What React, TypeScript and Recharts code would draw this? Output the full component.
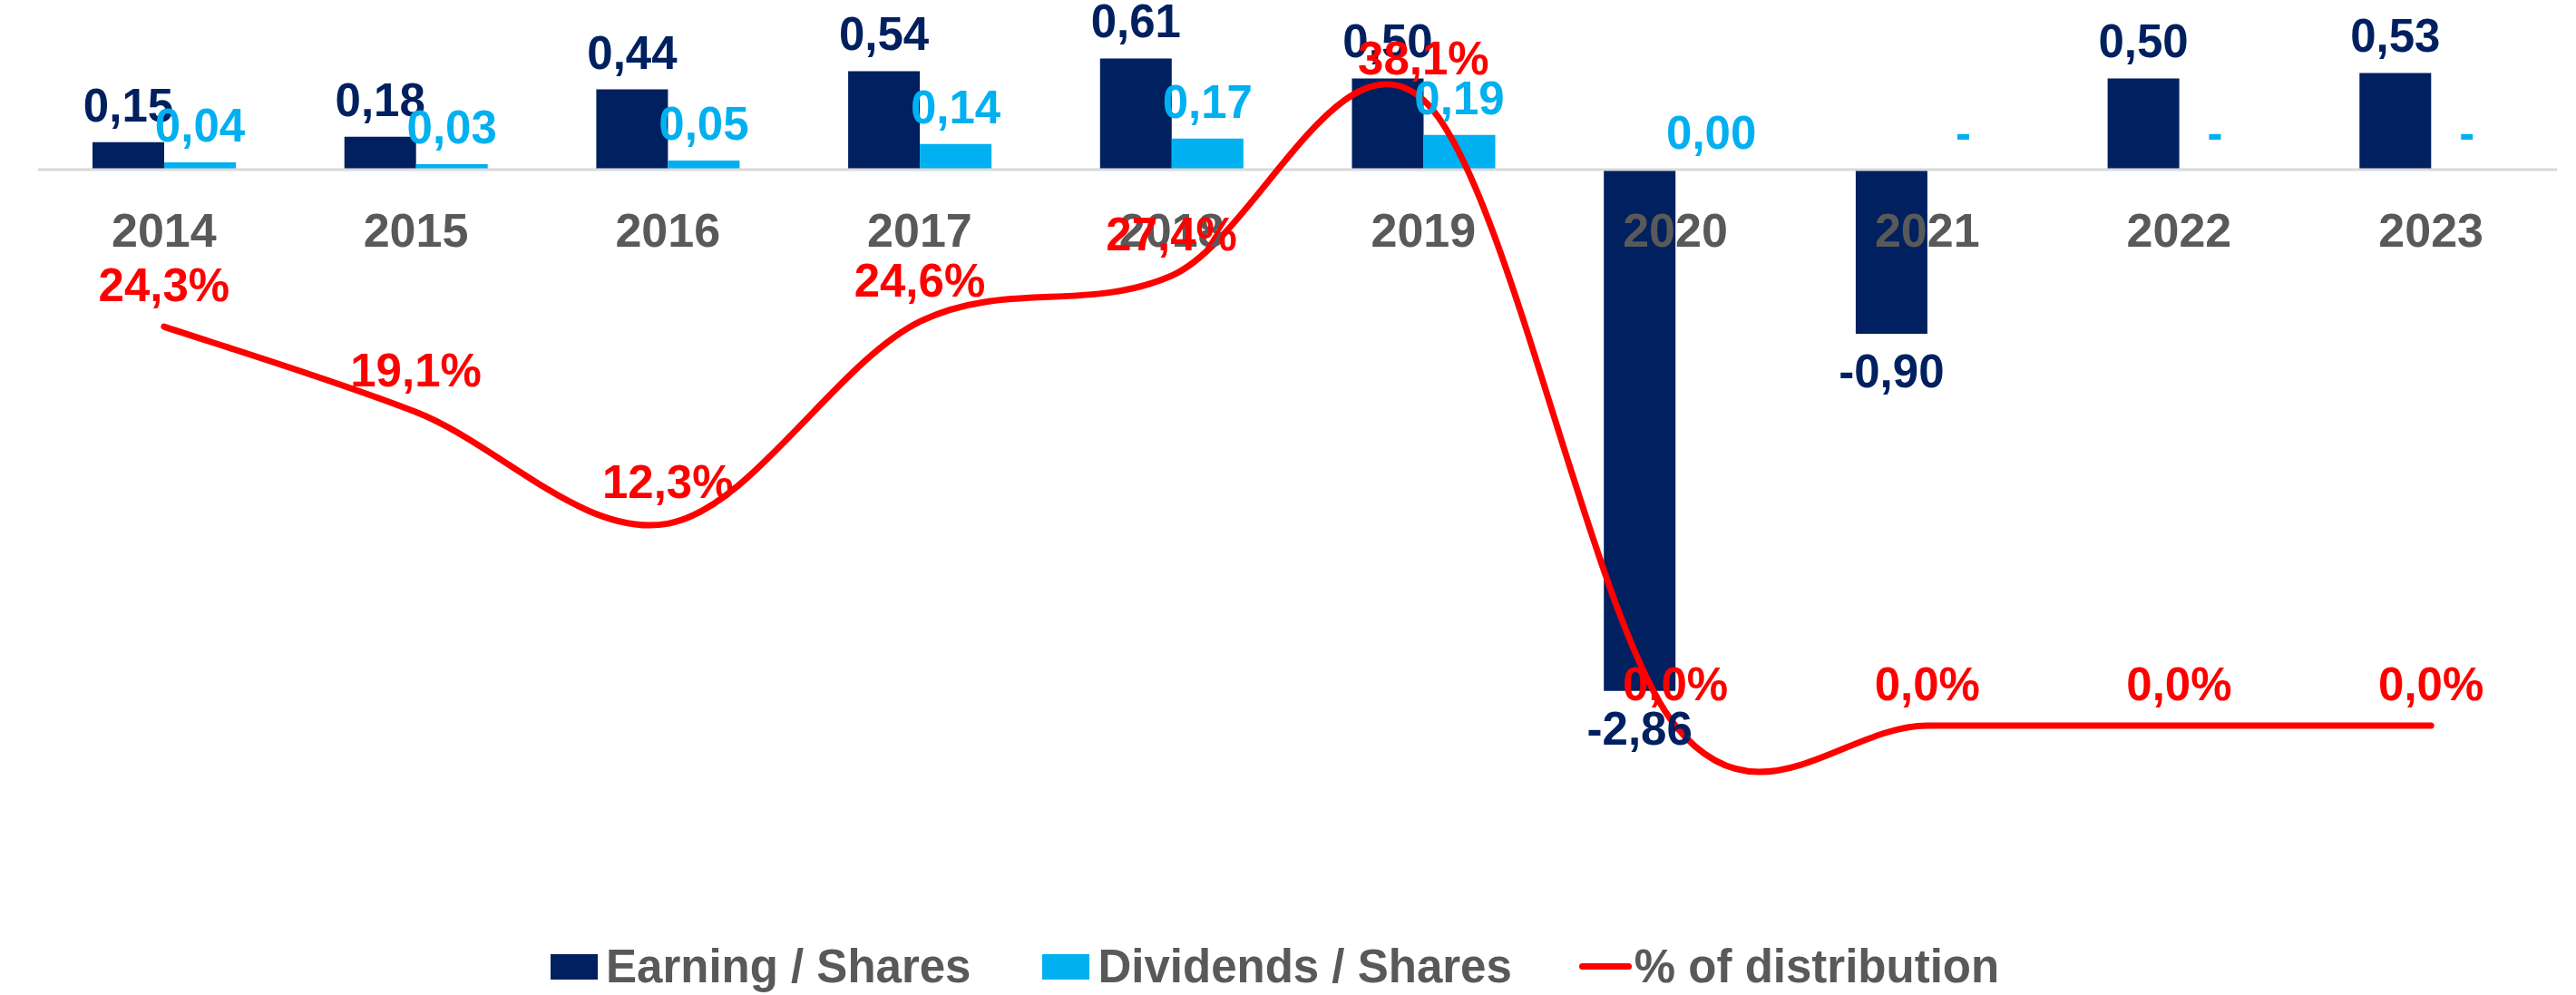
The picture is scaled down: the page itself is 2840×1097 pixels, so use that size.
import React from "react";
import {
  ComposedChart,
  Bar,
  Line,
  XAxis,
  YAxis,
  LabelList,
  ReferenceLine,
  Legend,
} from "recharts";

const years = ["2014", "2015", "2016", "2017", "2018", "2019", "2020", "2021", "2022", "2023"];
const earningPerShare = [0.15, 0.18, 0.44, 0.54, 0.61, 0.5, -2.86, -0.9, 0.5, 0.53];
const dividendPerShare: (number | null)[] = [0.04, 0.03, 0.05, 0.14, 0.17, 0.19, 0.0, null, null, null];
const distributionPct = [24.3, 19.1, 12.3, 24.6, 27.4, 38.1, 0, 0, 0, 0];

const NAVY = "#002060";
const CYAN = "#00B0F0";
const RED = "#FF0000";
const GREY = "#595959";
const FONT = "'Liberation Sans', Arial, sans-serif";

const W = 2840;
const H = 1097;
const PLOT_TOP = 27;
const PLOT_H = 880;
const EPS_DOMAIN = [-3.582, 0.796];
const PCT_DOMAIN = [-5.91, 42.7];
const ZERO_Y = PLOT_TOP + (EPS_DOMAIN[1] / (EPS_DOMAIN[1] - EPS_DOMAIN[0])) * PLOT_H;

const fmt = (v: number, d = 2) => v.toFixed(d).replace(".", ",");

const data = years.map((year, i) => {
  const dps = dividendPerShare[i];
  return {
    year,
    eps: earningPerShare[i],
    // zero-height bars lose their label in recharts, so keep a hair of height
    dps: dps || 1e-9,
    dpsLabel: dps == null ? "-" : fmt(dps),
    pct: distributionPct[i],
  };
});

// excel-like smoothed line (catmull-rom, 1/6 tangents)
function excelSmooth(context: any) {
  let pts: number[][] = [];
  return {
    areaStart() {},
    areaEnd() {},
    lineStart() {
      pts = [];
    },
    point(x: number, y: number) {
      pts.push([+x, +y]);
    },
    lineEnd() {
      if (!pts.length) return;
      context.moveTo(pts[0][0], pts[0][1]);
      for (let i = 0; i < pts.length - 1; i++) {
        const p0 = pts[i - 1] || pts[i];
        const p1 = pts[i];
        const p2 = pts[i + 1];
        const p3 = pts[i + 2] || p2;
        context.bezierCurveTo(
          p1[0] + (p2[0] - p0[0]) / 6,
          p1[1] + (p2[1] - p0[1]) / 6,
          p2[0] - (p3[0] - p1[0]) / 6,
          p2[1] - (p3[1] - p1[1]) / 6,
          p2[0],
          p2[1]
        );
      }
    },
  };
}

const YearTick = (props: any) => {
  const { x, payload } = props;
  return (
    <text x={x} y={ZERO_Y + 85} textAnchor="middle" fill={GREY} fontSize={52} fontWeight={700} fontFamily={FONT}>
      {payload.value}
    </text>
  );
};

const legendItems = [
  { name: "Earning / Shares", color: NAVY, kind: "rect", gap: 79 },
  { name: "Dividends / Shares", color: CYAN, kind: "rect", gap: 74 },
  { name: "% of distribution", color: RED, kind: "line", gap: 0 },
];

const LegendRow = () => (
  <div style={{ display: "flex", alignItems: "center", fontFamily: FONT, fontWeight: 700, fontSize: 51, color: GREY }}>
    {legendItems.map((it) => (
      <div key={it.name} style={{ display: "flex", alignItems: "center", marginRight: it.gap }}>
        {it.kind === "rect" ? (
          <span style={{ width: 52, height: 28, background: it.color, marginRight: 9, display: "inline-block" }} />
        ) : (
          <span style={{ width: 58, height: 7, borderRadius: 4, background: it.color, marginRight: 3, display: "inline-block" }} />
        )}
        <span>{it.name}</span>
      </div>
    ))}
  </div>
);

const labelStyle = { fontFamily: FONT, fontWeight: 700, fontSize: 51 };

export default function App() {
  return (
    <div style={{ position: "absolute", left: 0, top: 0, background: "#fff" }}>
      <ComposedChart
        width={W}
        height={H}
        data={data}
        margin={{ top: PLOT_TOP, right: 21, left: 42, bottom: H - PLOT_TOP - PLOT_H - 1 }}
        barGap={0}
        barSize={79}
      >
        <XAxis dataKey="year" height={1} axisLine={false} tickLine={false} interval={0} tick={<YearTick />} />
        <YAxis yAxisId="eps" hide domain={EPS_DOMAIN} allowDataOverflow />
        <YAxis yAxisId="pct" hide orientation="right" domain={PCT_DOMAIN} allowDataOverflow />
        <ReferenceLine yAxisId="eps" y={0} stroke="#D9D9D9" strokeWidth={3} />
        <Bar yAxisId="eps" dataKey="eps" name="Earning / Shares" fill={NAVY} isAnimationActive={false}>
          <LabelList
            dataKey="eps"
            position="top"
            offset={23}
            formatter={(v: any) => fmt(Number(v))}
            fill={NAVY}
            style={labelStyle}
          />
        </Bar>
        <Bar yAxisId="eps" dataKey="dps" name="Dividends / Shares" fill={CYAN} isAnimationActive={false}>
          <LabelList dataKey="dpsLabel" position="top" offset={23} fill={CYAN} style={labelStyle} />
        </Bar>
        <Line
          yAxisId="pct"
          dataKey="pct"
          name="% of distribution"
          type={excelSmooth as any}
          stroke={RED}
          strokeWidth={7}
          strokeLinecap="round"
          dot={false}
          activeDot={false}
          isAnimationActive={false}
        >
          <LabelList
            dataKey="pct"
            position="top"
            offset={28}
            formatter={(v: any) => fmt(Number(v), 1) + "%"}
            fill={RED}
            style={labelStyle}
          />
        </Line>
        <Legend
          verticalAlign="middle"
          align="center"
          wrapperStyle={{ top: 1036, left: 607, width: 1900, height: 64 }}
          content={() => <LegendRow />}
        />
      </ComposedChart>
    </div>
  );
}
